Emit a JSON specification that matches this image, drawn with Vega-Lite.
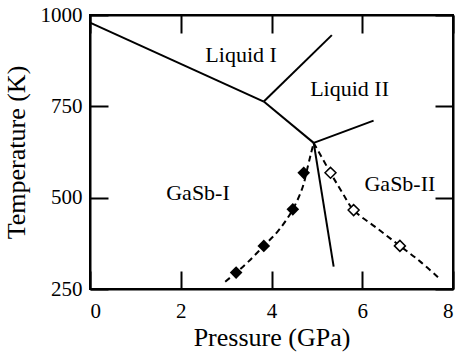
{
  "$schema": "https://vega.github.io/schema/vega-lite/v6.json",
  "width": 363,
  "height": 274,
  "autosize": "none",
  "padding": {"left": 90, "top": 15, "right": 5, "bottom": 63},
  "background": "white",
  "config": {
    "view": {"stroke": "black", "strokeWidth": 2},
    "font": "Liberation Serif"
  },
  "datasets": {
    "solid": [
      {"P1": 0, "T1": 979, "P2": 3.83, "T2": 763},
      {"P1": 3.83, "T1": 763, "P2": 4.93, "T2": 650},
      {"P1": 3.83, "T1": 763, "P2": 5.33, "T2": 945},
      {"P1": 4.93, "T1": 650, "P2": 6.25, "T2": 711},
      {"P1": 4.93, "T1": 650, "P2": 5.37, "T2": 311}
    ],
    "dashL": [
      {"P": 2.98, "T": 270},
      {"P": 3.22, "T": 295},
      {"P": 3.49, "T": 325},
      {"P": 3.83, "T": 368},
      {"P": 4.16, "T": 411},
      {"P": 4.47, "T": 468},
      {"P": 4.69, "T": 530},
      {"P": 4.79, "T": 580},
      {"P": 4.87, "T": 621},
      {"P": 4.93, "T": 650}
    ],
    "dashR": [
      {"P": 4.93, "T": 650},
      {"P": 5.3, "T": 568},
      {"P": 5.55, "T": 516},
      {"P": 5.81, "T": 466},
      {"P": 6.33, "T": 416},
      {"P": 6.83, "T": 368},
      {"P": 7.28, "T": 325},
      {"P": 7.67, "T": 282}
    ],
    "filled": [
      {"P": 3.22, "T": 295},
      {"P": 3.83, "T": 368},
      {"P": 4.47, "T": 468},
      {"P": 4.71, "T": 568}
    ],
    "open": [
      {"P": 5.3, "T": 568},
      {"P": 5.81, "T": 466},
      {"P": 6.83, "T": 368}
    ],
    "labels": [
      {"P": 3.33, "T": 890, "label": "Liquid I"},
      {"P": 5.72, "T": 797, "label": "Liquid II"},
      {"P": 2.38, "T": 512, "label": "GaSb-I"},
      {"P": 6.83, "T": 537, "label": "GaSb-II"}
    ]
  },
  "resolve": {"axis": {"x": "independent", "y": "independent"}},
  "layer": [
    {
      "data": {"name": "solid"},
      "mark": {"type": "rule", "color": "black", "strokeWidth": 2},
      "encoding": {
        "x": {"field": "P1", "type": "quantitative",
          "scale": {"domain": [0, 8], "nice": false, "zero": false},
          "axis": {"orient": "bottom", "values": [0, 2, 4, 6, 8],
            "domain": true, "domainColor": "black", "domainWidth": 2, "grid": false,
            "tickSize": -18, "tickColor": "black", "tickWidth": 2,
            "labelFont": "Liberation Serif", "labelColor": "black", "labelFontSize": 21, "labelPadding": 29, "format": "d",
            "title": "Pressure (GPa)", "titleFont": "Liberation Serif", "titleColor": "black", "titleFontWeight": "normal", "titleFontSize": 26, "titlePadding": 3}},
        "y": {"field": "T1", "type": "quantitative",
          "scale": {"domain": [250, 1000], "nice": false, "zero": false},
          "axis": {"orient": "left", "values": [250, 500, 750, 1000],
            "domain": true, "domainColor": "black", "domainWidth": 2, "grid": false,
            "tickSize": -18, "tickColor": "black", "tickWidth": 2,
            "labelFont": "Liberation Serif", "labelColor": "black", "labelFontSize": 21, "labelPadding": 26, "format": "d",
            "title": "Temperature (K)", "titleFont": "Liberation Serif", "titleColor": "black", "titleFontWeight": "normal", "titleFontSize": 26, "titlePadding": 11}},
        "x2": {"field": "P2"},
        "y2": {"field": "T2"}
      }
    },
    {
      "data": {"name": "dashL"},
      "mark": {"type": "line", "color": "black", "strokeWidth": 2, "strokeDash": [6, 4], "interpolate": "catmull-rom"},
      "encoding": {
        "x": {"field": "P", "type": "quantitative",
          "axis": {"orient": "top", "values": [0, 2, 4, 6, 8],
            "domain": true, "domainColor": "black", "domainWidth": 2, "grid": false,
            "tickSize": -18, "tickColor": "black", "tickWidth": 2, "labels": false, "title": null}},
        "y": {"field": "T", "type": "quantitative",
          "axis": {"orient": "right", "values": [250, 500, 750, 1000],
            "domain": true, "domainColor": "black", "domainWidth": 2, "grid": false,
            "tickSize": -18, "tickColor": "black", "tickWidth": 2, "labels": false, "title": null}}
      }
    },
    {
      "data": {"name": "dashR"},
      "mark": {"type": "line", "color": "black", "strokeWidth": 2, "strokeDash": [6, 4], "interpolate": "catmull-rom"},
      "encoding": {
        "x": {"field": "P", "type": "quantitative", "axis": null},
        "y": {"field": "T", "type": "quantitative", "axis": null}
      }
    },
    {
      "data": {"name": "filled"},
      "mark": {"type": "point", "shape": "diamond", "filled": true, "color": "black", "size": 160, "opacity": 1},
      "encoding": {
        "x": {"field": "P", "type": "quantitative", "axis": null},
        "y": {"field": "T", "type": "quantitative", "axis": null}
      }
    },
    {
      "data": {"name": "open"},
      "mark": {"type": "point", "shape": "diamond", "filled": true, "fill": "white", "stroke": "black", "strokeWidth": 1.5, "size": 120, "opacity": 1},
      "encoding": {
        "x": {"field": "P", "type": "quantitative", "axis": null},
        "y": {"field": "T", "type": "quantitative", "axis": null}
      }
    },
    {
      "data": {"name": "labels"},
      "mark": {"type": "text", "font": "Liberation Serif", "fontSize": 22, "color": "black", "align": "center", "baseline": "middle"},
      "encoding": {
        "x": {"field": "P", "type": "quantitative", "axis": null},
        "y": {"field": "T", "type": "quantitative", "axis": null},
        "text": {"field": "label"}
      }
    }
  ]
}
